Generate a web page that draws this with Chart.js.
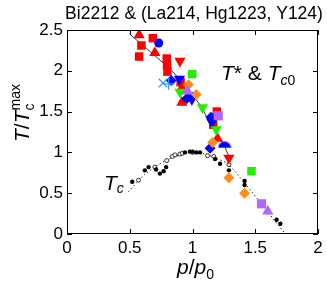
<!DOCTYPE html>
<html>
<head>
<meta charset="utf-8">
<script src="https://cdn.jsdelivr.net/npm/chart.js@4.4.0/dist/chart.umd.min.js"></script>
<style>
  body { margin: 0; background: #fff; }
  canvas { display: block; }
</style>
</head>
<body>
<canvas id="chart" width="327" height="285"></canvas>
<script>
// axis ticks
const xTicks = [0, 0.5, 1, 1.5, 2];
const yTicks = [0, 0.5, 1, 1.5, 2, 2.5];

// T* & Tc0 points, [p/p0, T/Tc^max]
const redSquares = [[0.684, 2.40], [0.593, 2.31], [0.575, 2.175], [0.795, 2.15], [0.797, 2.07], [0.80, 1.99], [0.905, 1.86], [1.194, 1.50], [1.165, 1.34]];
const redTriangles = [[0.575, 2.44], [0.70, 2.22], [0.915, 1.79], [0.915, 1.61], [1.20, 1.17]];
const redDownTriangles = [[0.90, 2.12], [1.29, 0.93]];
const blueCircles = [[0.731, 2.34]];
const blueDiamonds = [[0.83, 1.88], [0.955, 1.66], [1.147, 1.43], [1.14, 1.05]];
const blueDownTriangles = [[0.896, 1.90], [0.976, 1.70], [0.995, 1.65], [1.155, 1.37]];
const blueArcs = [[1.255, 1.11]];
const lightBlueX = [[0.765, 1.85]];
const lightBluePlus = [[0.81, 1.84]];
const greenSquares = [[0.998, 1.96], [1.47, 0.77]];
const greenDownTriangles = [[0.90, 1.74], [1.08, 1.55], [1.19, 1.28]];
const orangeDiamonds = [[0.968, 1.83], [1.03, 1.71], [1.16, 1.12], [1.29, 0.69], [1.415, 0.50]];
const purpleSquares = [[1.205, 1.45], [1.55, 0.37]];
const purpleTriangles = [[0.96, 1.75], [1.60, 0.28]];

// Tc points
const tcFilled = [[0.52, 0.64], [0.62, 0.78], [0.65, 0.82], [0.71, 0.79], [0.74, 0.74], [0.77, 0.77], [0.79, 0.82],
  [0.94, 1.0], [0.98, 1.01], [1.0, 1.01], [1.03, 1.0], [1.06, 1.0], [1.18, 0.92], [1.22, 0.86], [1.29, 0.78],
  [1.415, 0.65], [1.415, 0.60], [1.67, 0.175], [1.70, 0.125]];
const tcOpen = [[0.57, 0.66], [0.70, 0.82], [0.795, 0.90], [0.84, 0.95], [0.86, 0.97], [0.90, 0.98], [0.92, 0.99],
  [1.0, 1.0], [1.12, 0.96], [1.17, 0.95], [1.29, 0.85]];

// guide lines
const tStarLine = [[0.5, 2.45], [0.86, 1.96], [1.075, 1.55], [1.13, 1.37], [1.25, 1.09], [1.29, 0.95]];
const tcDome = [[0.49, 0.52], [0.55, 0.62], [0.62, 0.73], [0.7, 0.82], [0.8, 0.91], [0.9, 0.97], [1.0, 1.0],
  [1.1, 0.98], [1.2, 0.92], [1.29, 0.85], [1.73, 0.02]];

const RED = '#ff0000', BLUE = '#0000ff', GREEN = '#22ee00', ORANGE = '#ff8c1a', PURPLE = '#b366ff', LBLUE = '#3399ff';
const FONT = "'Liberation Sans', Arial, sans-serif";

// blue half-disc marker
const arcImg = document.createElement('canvas');
arcImg.width = 14; arcImg.height = 10;
const ac = arcImg.getContext('2d');
ac.fillStyle = BLUE;
ac.beginPath(); ac.arc(7, 9.5, 6.5, Math.PI, 0); ac.closePath(); ac.fill();

function pts(data, style, color, r, extra) {
  return Object.assign({
    data: data.map(([x, y]) => ({ x, y })),
    pointStyle: style, pointRadius: r, pointHoverRadius: r,
    backgroundColor: color, borderColor: color, borderWidth: 0
  }, extra || {});
}
function line(data, dash, color) {
  return {
    type: 'line', data: data.map(([x, y]) => ({ x, y })), showLine: true,
    borderColor: color, borderWidth: 1, borderDash: dash, pointRadius: 0, tension: 0.3, fill: false
  };
}

// draws runs of text with different fonts / offsets
function richText(ctx, x, y, parts) {
  for (const p of parts) {
    ctx.font = p.font;
    ctx.fillText(p.t, x, y + (p.dy || 0));
    if (!p.stay) x += ctx.measureText(p.t).width;
  }
}

const frame = {
  id: 'frame',
  afterDraw(chart) {
    const { ctx, chartArea: a, scales: { x, y } } = chart;
    ctx.save();
    ctx.strokeStyle = '#000';
    ctx.lineWidth = 1;
    ctx.strokeRect(a.left + 0.5, a.top + 0.5, a.right - a.left - 1, a.bottom - a.top - 1);
    ctx.beginPath();
    xTicks.forEach(v => {
      const px = Math.round(x.getPixelForValue(v)) + 0.5;
      ctx.moveTo(px, a.bottom); ctx.lineTo(px, a.bottom - 5);
      ctx.moveTo(px, a.top); ctx.lineTo(px, a.top + 5);
    });
    yTicks.forEach(v => {
      const py = Math.round(y.getPixelForValue(v)) + 0.5;
      ctx.moveTo(a.left, py); ctx.lineTo(a.left + 5, py);
      ctx.moveTo(a.right, py); ctx.lineTo(a.right - 5, py);
    });
    ctx.stroke();

    ctx.fillStyle = '#000';
    ctx.textBaseline = 'alphabetic';
    ctx.textAlign = 'center';
    ctx.font = '17.5px ' + FONT;
    ctx.fillText('Bi2212 & (La214, Hg1223, Y124)', 194, 19);
    ctx.textAlign = 'left';

    richText(ctx, 221, 80, [
      { t: 'T', font: 'italic 21px ' + FONT },
      { t: '* & ', font: '21px ' + FONT },
      { t: 'T', font: 'italic 21px ' + FONT },
      { t: 'c', font: 'italic 14px ' + FONT, dy: 5 },
      { t: '0', font: '14px ' + FONT, dy: 5 }
    ]);
    richText(ctx, 104, 190, [
      { t: 'T', font: 'italic 21px ' + FONT },
      { t: 'c', font: 'italic 14px ' + FONT, dy: 3 }
    ]);
    richText(ctx, 177, 274, [
      { t: 'p', font: 'italic 21px ' + FONT },
      { t: '/', font: '21px ' + FONT },
      { t: 'p', font: 'italic 21px ' + FONT },
      { t: '0', font: '14px ' + FONT, dy: 5 }
    ]);

    ctx.translate(29, 142);
    ctx.rotate(-Math.PI / 2);
    richText(ctx, 0, 0, [
      { t: 'T', font: 'italic 21px ' + FONT },
      { t: '/', font: '21px ' + FONT },
      { t: 'T', font: 'italic 21px ' + FONT },
      { t: 'c', font: '14px ' + FONT, dy: 5, stay: true },
      { t: 'max', font: '14px ' + FONT, dy: -9 }
    ]);
    ctx.restore();
  }
};

const tickFont = { family: FONT, size: 17 };

new Chart(document.getElementById('chart').getContext('2d'), {
  type: 'scatter',
  data: {
    datasets: [
      pts(lightBlueX, 'crossRot', LBLUE, 6, { borderWidth: 1.2 }),
      pts(lightBluePlus, 'cross', LBLUE, 6, { borderWidth: 1.2 }),
      pts(purpleTriangles, 'triangle', PURPLE, 6.5),
      pts(purpleSquares, 'rect', PURPLE, 6.5),
      pts(orangeDiamonds, 'rectRot', ORANGE, 5.5),
      pts(greenDownTriangles, 'triangle', GREEN, 6.5, { rotation: 180 }),
      pts(greenSquares, 'rect', GREEN, 6),
      pts(blueArcs, arcImg, BLUE, 6),
      pts(blueDownTriangles, 'triangle', BLUE, 6.5, { rotation: 180 }),
      pts(blueDiamonds, 'rectRot', BLUE, 5.5),
      pts(blueCircles, 'circle', BLUE, 4.5),
      pts(redDownTriangles, 'triangle', RED, 6.5, { rotation: 180 }),
      pts(redTriangles, 'triangle', RED, 6.5),
      pts(redSquares, 'rect', RED, 6),
      pts(tcFilled, 'circle', '#000', 2.2),
      pts(tcOpen, 'circle', '#000', 2, { backgroundColor: '#fff', borderWidth: 0.8 }),
      line(tStarLine, [], '#333'),
      line(tcDome, [1.2, 2.6], '#000')
    ]
  },
  options: {
    responsive: false,
    animation: false,
    events: [],
    layout: { padding: { top: 30, right: 9, left: 0, bottom: 0 } },
    plugins: { legend: { display: false }, tooltip: { enabled: false } },
    scales: {
      x: {
        type: 'linear', min: 0, max: 2,
        afterBuildTicks: s => { s.ticks = xTicks.map(v => ({ value: v })); },
        afterFit: s => { s.height = 51; },
        grid: { display: false, drawTicks: false },
        border: { display: false },
        ticks: { font: tickFont, color: '#000', padding: 4, maxRotation: 0, autoSkip: false, callback: v => String(v) }
      },
      y: {
        type: 'linear', min: 0, max: 2.5,
        afterBuildTicks: s => { s.ticks = yTicks.map(v => ({ value: v })); },
        afterFit: s => { s.width = 67; },
        grid: { display: false, drawTicks: false },
        border: { display: false },
        ticks: { font: tickFont, color: '#000', padding: 4, autoSkip: false, callback: v => String(v) }
      }
    }
  },
  plugins: [frame]
});
</script>
</body>
</html>
